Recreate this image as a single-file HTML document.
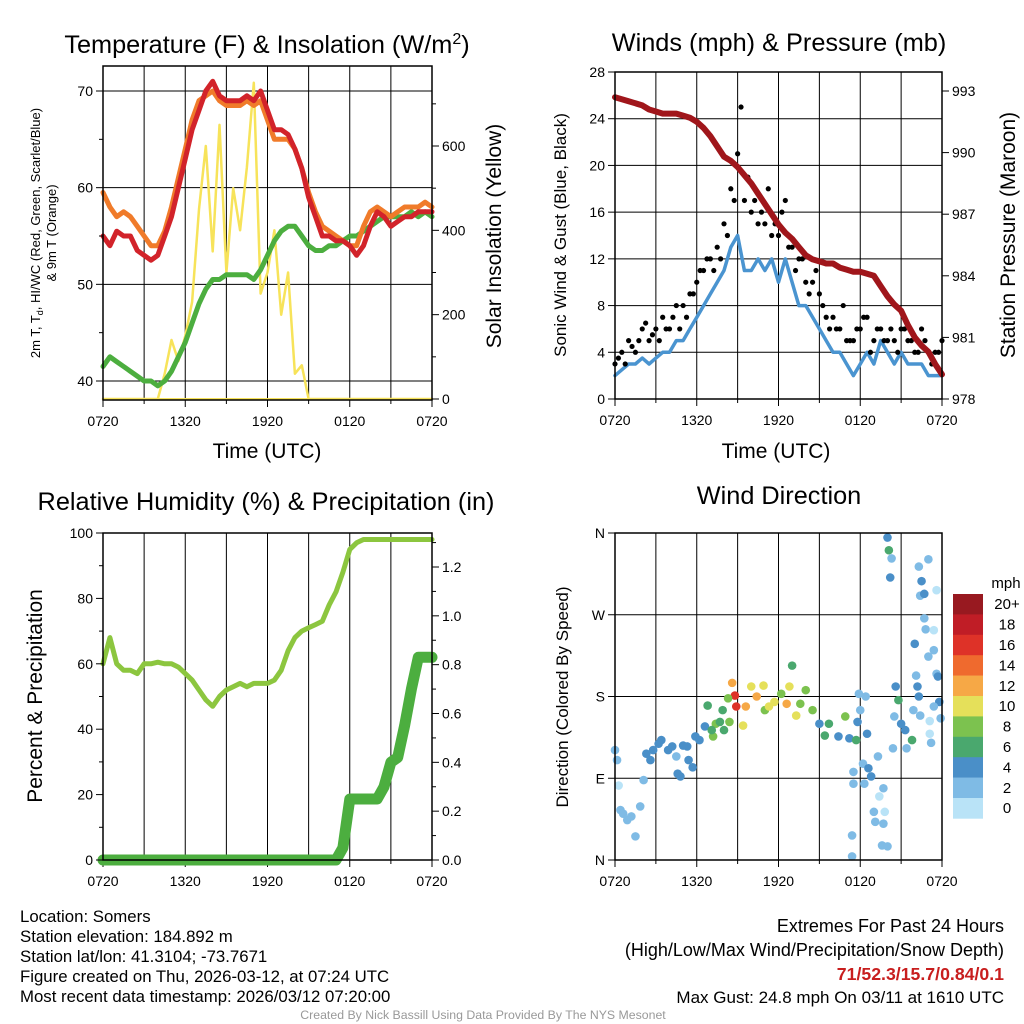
<!DOCTYPE html>
<html><head><meta charset="utf-8"><style>
html,body{margin:0;padding:0;background:#fff;}
svg{display:block;font-family:"Liberation Sans",sans-serif;}
</style></head><body>
<svg id="c" width="1024" height="1024" viewBox="0 0 1024 1024" xmlns="http://www.w3.org/2000/svg"></svg>
<script>
// ---- data (half-hourly from 0720 UTC, 49 points) ----
const timeLabels=["0720","1320","1920","0120","0720"];
const temp2m=[55,54,55.5,55,55,53.5,53,52.5,53,55,57,60,63,66,68,70,71,69.5,69,69,69,69.5,69,70,68,66,66,65.5,64,62,59,57,55,55,54.5,54.5,54,53,54,56,57.5,57,56,56.5,57,57,57.5,57.5,57.5];
const temp9m=[59.5,58,57,57.5,57,56,55,54,54,55.5,58,61,64,67,69,69.5,70,69,68.5,68.5,68.5,69,68.5,69,67,65,65,65,64,62,59.5,57.5,56,55.5,55,54.5,54,54,56,57.5,58,57.5,57,57.5,58,58,58,58.5,58];
const dewpoint=[41.5,42.5,42,41.5,41,40.5,40,40,39.5,40,41,42.5,44,46,48,49.5,50.5,50.5,51,51,51,51,50.5,51.5,53,54.5,55.5,56,56,55,54,53.5,53.5,54,54,54.5,55,55,55.5,56,56.5,57,57,57,57,57.5,57,57.5,57];
const solar=[0,0,0,0,0,0,0,0,0,60,140,90,150,230,450,600,350,650,300,500,400,550,750,250,300,400,200,300,60,80,0,0,0,0,0,0,0,0,0,0,0,0,0,0,0,0,0,0,0];
const windSpd=[2,2.5,3,3,3.5,3,3.5,4,4,5,5,6,7,8,9,10,11,13,14,11,11,12,11,12,10,12,10,8,8,7,6,5,4,4,3,2,3,4,3,5,4,3,4,3,3,3,2,2,2];
const windGust=[3,4,5,4,6,5,6,7,6,8,8,9,10,11,12,13,15,18,21,17,16,15,15,14,14,17,13,12,10,10,9,7,7,6,5,5,6,7,5,6,5,5,6,5,4,6,4,4,5];
const windGustB=[3.5,3,4.5,5,6.5,5.5,5,6,7,6,7,9,11,12,11,12,14,17,25,19,17,16,18,15,16,13,11,12,9,11,8,6,6,8,5,6,7,4,6,5,6,4,6,5,4,5,3,4];
const pressure=[992.7,992.6,992.5,992.4,992.3,992.1,992.0,991.9,991.9,991.9,991.8,991.7,991.5,991.2,990.8,990.3,989.8,989.6,989.3,988.9,988.5,988.0,987.5,987.0,986.5,986.1,985.8,985.4,985.0,984.8,984.7,984.6,984.6,984.4,984.3,984.2,984.2,984.1,984.0,983.5,983.0,982.6,982.3,981.6,981.0,980.6,980.3,979.7,979.2];
const relHum=[60,68,60,58,58,57,60,60,60.5,60,60,59,57,55,52,49,47,50,52,53,54,53,54,54,54,55,58,64,68,70,71,72,73,78,82,88,95,97,98,98,98,98,98,98,98,98,98,98,98];
const precip=[0,0,0,0,0,0,0,0,0,0,0,0,0,0,0,0,0,0,0,0,0,0,0,0,0,0,0,0,0,0,0,0,0,0,0,0.05,0.25,0.25,0.25,0.25,0.25,0.3,0.4,0.42,0.55,0.7,0.83,0.83,0.83];
const dirHour=[0,0.15,0.27,0.4,0.6,0.9,1.2,1.5,1.85,2.1,2.3,2.8,3.4,3.9,4.5,4.8,5.3,5.7,5.9,6.2,6.6,6.8,7.2,7.4,7.9,8.4,8.6,8.8,8.9,9.4,9.6,10,10.4,10.9,11,11.3,11.7,12.2,12.6,12.8,13,13.3,13.6,14,14.5,15,15.4,15.7,16.4,16.9,17.2,17.7,17.8,17.9,18,18.2,18.4,18.5,17.5,17.5,17.4,17.4,18.3,18.6,18.8,19.3,19.7,19.4,19,19.1,19.7,19.6,20,19.8,20,20.1,20.3,20.2,20.4,20.5,20.6,20.8,21,21.3,21.4,21.8,21.9,22,22.1,22.2,22.3,22.4,22.3,22.5,22.4,22.7,22.7,22.8,23,23,23.1,23.1,23.2,23.4,23.6,23.6,23.7,23.8,23.9,23.4,23.4,2.6,3.2,4.2,4.6,5,5.4,7.1,7.7,8,8.3];
const dirDeg=[121,110,82,55,51,44,48,26,59,88,117,121,132,121,114,92,125,102,136,132,147,170,136,150,165,152,195,181,169,148,169,191,180,192,165,169,174,183,172,191,214,159,172,187,165,150,137,150,136,158,134,132,152,183,165,106,180,139,97,84,27,4,84,101,92,114,79,70,53,42,40,16,15,53,355,341,332,311,123,158,191,176,150,143,123,132,165,238,203,191,180,159,323,307,291,293,266,254,224,331,153,139,129,253,297,205,202,174,156,169,231,110,128,125,95,126,110,143,152,143,178];
const dirSpd=[2,2,0,2,2,2,2,2,2,2,4,4,4,4,2,4,4,4,4,4,4,6,8,8,6,8,12,16,16,10,12,10,12,10,8,10,10,8,12,10,6,10,8,8,8,4,6,6,4,8,4,6,4,2,2,2,2,4,2,2,2,2,2,4,4,2,2,0,2,2,2,2,2,0,4,6,2,4,2,2,4,6,4,4,2,6,2,4,2,4,4,2,2,4,2,4,2,2,2,2,0,0,2,0,0,2,4,4,2,2,2,4,4,4,4,4,4,6,6,6,8];
const legendLabels=["20+","18","16","14","12","10","8","6","4","2","0"];
const legendColors=["#981920","#c01d26","#de3228","#ef6a2e","#f6a846","#e5e05a","#7cc24f","#4aa86e","#4a8fc8","#7fbbe5","#b9e3f7"];

const svg=document.getElementById('c');
const NS="http://www.w3.org/2000/svg";
function mk(tag,attrs,parent){const e=document.createElementNS(NS,tag);for(const k in attrs)e.setAttribute(k,attrs[k]);(parent||svg).appendChild(e);return e;}
function txt(s,x,y,size,anchor,parent,extra){const t=mk('text',Object.assign({x:x,y:y,'font-size':size,'text-anchor':anchor||'middle',fill:'#000'},extra||{}),parent);t.textContent=s;return t;}
function lin(d0,d1,r0,r1){return v=>r0+(v-d0)*(r1-r0)/(d1-d0);}
function hourOf(i){return i*0.5;}

function frame(name,x0,x1,y0,y1,vgrid,hgridVals,ys){
  const g=mk('g',{});
  
  
  const xs=lin(0,24,x0,x1);
  if(vgrid){for(let h=3;h<24;h+=3){mk('line',{x1:xs(h),x2:xs(h),y1:y0,y2:y1,stroke:'#000','stroke-width':1},g);}}
  hgridVals.forEach(v=>mk('line',{x1:x0,x2:x1,y1:ys(v),y2:ys(v),stroke:'#000','stroke-width':1},g));
  for(let h=0;h<=24;h+=3){mk('line',{x1:xs(h),x2:xs(h),y1:y1,y2:y1+(h%6==0?7:4),stroke:'#000'},g);}
  timeLabels.forEach((l,i)=>txt(l,xs(i*6),y1+26,14,'middle',g));
  return {g:g,xs:xs};
}
function border(g,x0,x1,y0,y1){mk('rect',{x:x0,y:y0,width:x1-x0,height:y1-y0,fill:'none',stroke:'#000','stroke-width':1.5},g);}
function leftTicks(g,x0,vals,ys,labels,minor){vals.forEach((v,i)=>{mk('line',{x1:x0-7,x2:x0,y1:ys(v),y2:ys(v),stroke:'#000'},g);txt(labels[i],x0-10,ys(v)+5,14,'end',g);});(minor||[]).forEach(v=>mk('line',{x1:x0-4,x2:x0,y1:ys(v),y2:ys(v),stroke:'#000'},g));}
function rightTicks(g,x1,vals,ys,labels,minor){vals.forEach((v,i)=>{mk('line',{x1:x1,x2:x1+7,y1:ys(v),y2:ys(v),stroke:'#000'},g);txt(labels[i],x1+10,ys(v)+5,14,'start',g);});(minor||[]).forEach(v=>mk('line',{x1:x1,x2:x1+4,y1:ys(v),y2:ys(v),stroke:'#000'},g));}
function pline(g,arr,xs,ys,color,w,name){const pts=arr.map((v,i)=>xs(hourOf(i)).toFixed(1)+','+ys(v).toFixed(1)).join(' ');const p=mk('polyline',{points:pts,fill:'none',stroke:color,'stroke-width':w,'stroke-linejoin':'round','stroke-linecap':'round'},g);return p;}

// ---- Panel 1 ----
(function(){
  const x0=103,x1=432,y0=66,y1=400;
  const yT=lin(40,70,381,91), yS=lin(0,600,399,146);
  const f=frame('temperature-panel',x0,x1,y0,y1,true,[40,50,60,70],yT);
  const g=f.g,xs=f.xs;
  pline(g,solar,xs,yS,'#f7e35a',2.5,'solar-insolation-line');
  pline(g,dewpoint,xs,yT,'#4cae3f',5,'dewpoint-line');
  pline(g,temp9m,xs,yT,'#f07b2a',5,'temp-9m-line');
  pline(g,temp2m,xs,yT,'#d2232a',5,'temp-2m-line');
  mk('line',{x1:x0,x2:x1,y1:y1-1,y2:y1-1,stroke:'#f7e35a','stroke-width':2},g);
  border(g,x0,x1,y0,y1);
  leftTicks(g,x0,[40,50,60,70],yT,['40','50','60','70'],[45,55,65]);
  rightTicks(g,x1,[0,200,400,600],yS,['0','200','400','600'],[100,300,500,700]);
  const t=txt('',267,53,25.3,'middle',g);t.innerHTML='Temperature (F) &amp; Insolation (W/m<tspan dy="-9" font-size="16">2</tspan><tspan dy="9">)</tspan>';
  
  txt('Time (UTC)',267,458,21,'middle',g);
  const yl=mk('text',{transform:'translate(40,233) rotate(-90)','font-size':13,'text-anchor':'middle'},g);
  yl.innerHTML='2m T, T<tspan dy="3" font-size="9">d</tspan><tspan dy="-3">, HI/WC (Red, Green, Scarlet/Blue)</tspan>';
  const yl2=mk('text',{transform:'translate(56,233) rotate(-90)','font-size':13,'text-anchor':'middle'},g);yl2.textContent='& 9m T (Orange)';
  const yr=mk('text',{transform:'translate(501,236) rotate(-90)','font-size':21,'text-anchor':'middle'},g);yr.textContent='Solar Insolation (Yellow)';
})();

// ---- Panel 2 ----
(function(){
  const x0=615,x1=942,y0=72,y1=399;
  const yW=lin(0,28,399,72), yP=lin(978,993,399,91);
  const f=frame('winds-panel',x0,x1,y0,y1,true,[4,8,12,16,20,24],yW);
  const g=f.g,xs=f.xs;
  pline(g,windSpd,xs,yW,'#4a94d0',3.5,'sonic-wind-line');
  windGust.forEach((v,i)=>{const c=mk('circle',{cx:xs(hourOf(i)),cy:yW(v),r:2.6,fill:'#000'},g);});
  windGustB.forEach((v,i)=>{const c=mk('circle',{cx:xs(hourOf(i)+0.25),cy:yW(v),r:2.6,fill:'#000'},g);});
  pline(g,pressure,xs,yP,'#a0161b',6,'pressure-line');
  border(g,x0,x1,y0,y1);
  leftTicks(g,x0,[0,4,8,12,16,20,24,28],yW,['0','4','8','12','16','20','24','28']);
  rightTicks(g,x1,[978,981,984,987,990,993],yP,['978','981','984','987','990','993']);
  txt('Winds (mph) & Pressure (mb)',779,51,25.3,'middle',g);
  txt('Time (UTC)',776,458,21,'middle',g);
  const yl=mk('text',{transform:'translate(566,235) rotate(-90)','font-size':17,'text-anchor':'middle'},g);yl.textContent='Sonic Wind & Gust (Blue, Black)';
  const yr=mk('text',{transform:'translate(1015,235) rotate(-90)','font-size':21,'text-anchor':'middle'},g);yr.textContent='Station Pressure (Maroon)';
})();

// ---- Panel 3 ----
(function(){
  const x0=103,x1=432,y0=533,y1=860;
  const yH=lin(0,100,860,533), yR=lin(0,1.2,860,567);
  const f=frame('humidity-panel',x0,x1,y0,y1,true,[],yH);
  const g=f.g,xs=f.xs;
  pline(g,relHum,xs,yH,'#8cc63f',5,'relative-humidity-line');
  pline(g,precip,xs,yR,'#4cae3f',11,'precipitation-line');
  border(g,x0,x1,y0,y1);
  leftTicks(g,x0,[0,20,40,60,80,100],yH,['0','20','40','60','80','100'],[10,30,50,70,90]);
  rightTicks(g,x1,[0,0.2,0.4,0.6,0.8,1.0,1.2],yR,['0.0','0.2','0.4','0.6','0.8','1.0','1.2'],[0.1,0.3,0.5,0.7,0.9,1.1,1.3]);
  txt('Relative Humidity (%) & Precipitation (in)',266,510,25.3,'middle',g);
  const yl=mk('text',{transform:'translate(42,696) rotate(-90)','font-size':21,'text-anchor':'middle'},g);yl.textContent='Percent & Precipitation';
})();

// ---- Panel 4 ----
(function(){
  const x0=615,x1=942,y0=533,y1=860;
  const yD=lin(0,360,860,533);
  const f=frame('wind-direction-panel',x0,x1,y0,y1,true,[90,180,270],yD);
  const g=f.g,xs=f.xs;
  function col(s){const idx=Math.min(10,Math.max(0,Math.floor(s/2)));return legendColors[10-idx];}
  dirHour.forEach((h,i)=>{const c=mk('circle',{cx:xs(h),cy:yD(dirDeg[i]),r:4.3,fill:col(dirSpd[i])},g);});
  border(g,x0,x1,y0,y1);
  leftTicks(g,x0,[0,90,180,270,360],yD,['N','E','S','W','N']);
  txt('Wind Direction',779,504,25.3,'middle',g);
  const yl=mk('text',{transform:'translate(568,697) rotate(-90)','font-size':17,'text-anchor':'middle'},g);yl.textContent='Direction (Colored By Speed)';
  const lg=mk('g',{},g);
  
  
  txt('mph',1006,588,15,'middle',lg);
  legendLabels.forEach((l,i)=>{const bh=20.4,yy=594+i*bh;mk('rect',{x:953,y:yy,width:30,height:bh+0.3,fill:legendColors[i]},lg);txt(l,1007,yy+bh/2+5,15,'middle',lg);});
})();

// ---- footer text ----
const ft=mk('g',{});


["Location: Somers","Station elevation: 184.892 m","Station lat/lon: 41.3104; -73.7671","Figure created on Thu, 2026-03-12, at 07:24 UTC","Most recent data timestamp: 2026/03/12 07:20:00"].forEach((s,i)=>txt(s,20,922+i*20,16.8,'start',ft));
const ex=mk('g',{});


txt('Extremes For Past 24 Hours',1004,932,18,'end',ex);
txt('(High/Low/Max Wind/Precipitation/Snow Depth)',1004,956,18,'end',ex);
txt('71/52.3/15.7/0.84/0.1',1004,980,17.7,'end',ex,{fill:'#c81e1e','font-weight':'bold'});
txt('Max Gust: 24.8 mph On 03/11 at 1610 UTC',1004,1003,17,'end',ex);
const cr=txt('Created By Nick Bassill Using Data Provided By The NYS Mesonet',483,1019,12.3,'middle',svg,{fill:'#999'});


</script>
</body></html>
